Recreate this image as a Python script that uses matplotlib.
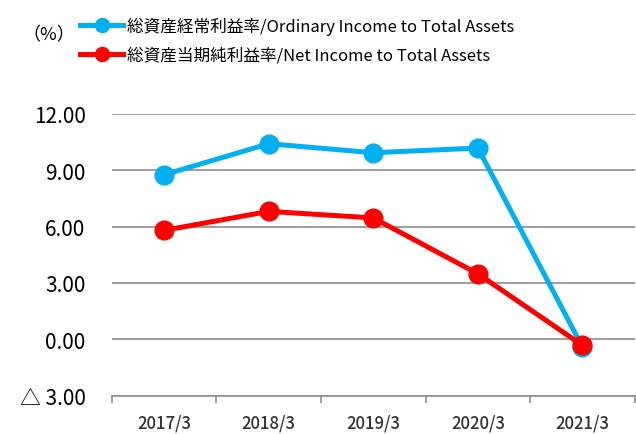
import matplotlib
matplotlib.use('Agg')
import matplotlib.pyplot as plt
from matplotlib.ticker import FuncFormatter

plt.rcParams['font.family'] = ['Noto Sans CJK JP', 'DejaVu Sans']

years = ['2017/3', '2018/3', '2019/3', '2020/3', '2021/3']
ordinary = [8.76, 10.41, 9.93, 10.18, -0.41]
net = [5.80, 6.81, 6.46, 3.49, -0.32]
label_ord = '総資産経常利益率/Ordinary Income to Total Assets'
label_net = '総資産当期純利益率/Net Income to Total Assets'

fig = plt.figure(figsize=(6.36, 4.35), dpi=100)
ax = fig.add_axes([0.176, 0.088, 0.822, 0.648])

x = range(len(years))
l1, = ax.plot(x, ordinary, color='#00B0F0', lw=3.6, marker='o', ms=13.5, label=label_ord, zorder=3)
l2, = ax.plot(x, net, color='#FF0000', lw=3.6, marker='o', ms=13.5, label=label_net, zorder=4)

ax.set_xlim(-0.5, len(years) - 0.5)
ax.set_ylim(-3, 12)
ax.set_yticks([-3, 0, 3, 6, 9, 12])
ax.yaxis.set_major_formatter(FuncFormatter(lambda v, p: '△ %.2f' % -v if v < 0 else '%.2f' % v))
ax.grid(axis='y', color='#8c8c8c', lw=1.2)
ax.set_axisbelow(True)
for s in ['top', 'right', 'left']:
    ax.spines[s].set_visible(False)
ax.spines['bottom'].set_color('#8c8c8c')
ax.spines['bottom'].set_linewidth(1.2)
ax.tick_params(axis='y', length=0, labelsize=15, pad=19)
ax.set_xticks([i - 0.5 for i in range(len(years) + 1)], minor=False)
ax.set_xticklabels([])
ax.set_xticks(list(x), minor=True)
ax.set_xticklabels(years, minor=True, fontweight='medium')
ax.tick_params(axis='x', which='major', length=5, color='#8c8c8c', width=1.2)
ax.tick_params(axis='x', which='minor', length=0, labelsize=12, pad=13, labelcolor='#333333')

fig.text(0.035, 0.92, '（%）', fontsize=13, va='center')
fig.legend(handles=[l1, l2], loc='upper left', bbox_to_anchor=(0.102, 0.995), frameon=False,
           fontsize=12, handlelength=2.6, handletextpad=0.2, labelspacing=0.72, markerscale=0.75)

fig.savefig('out.png', dpi=100)
